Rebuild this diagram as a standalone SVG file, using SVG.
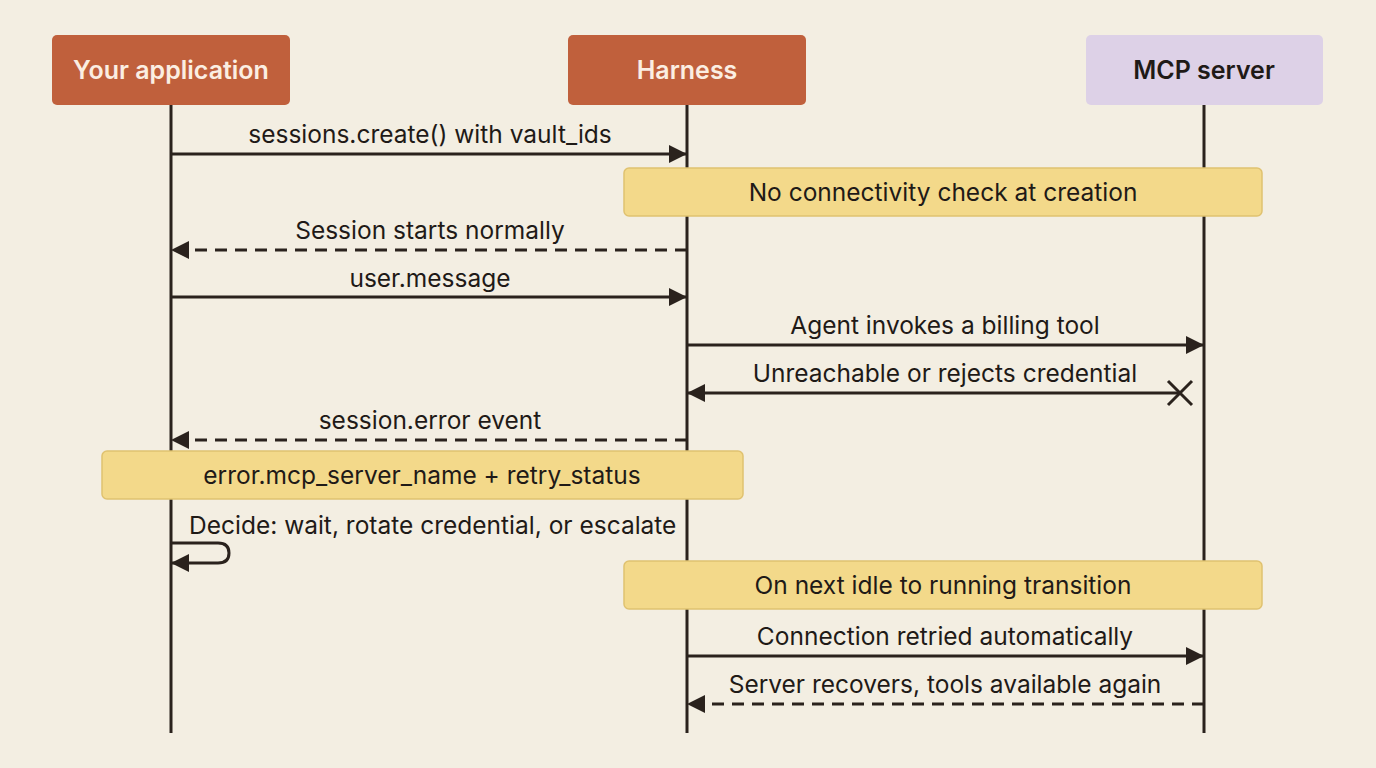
<svg xmlns="http://www.w3.org/2000/svg" width="1376" height="768" viewBox="0 0 1376 768">
<style>
.bg{fill:#f3eee2}
.life{stroke:#2a221d;stroke-width:3}
.actor{font-family:Inter,"Liberation Sans",sans-serif;font-size:25px;font-weight:600;text-anchor:middle}
.lbl{font-family:Inter,"Liberation Sans",sans-serif;font-size:24.5px;fill:#1f1a17;text-anchor:middle}
.note{fill:#f3d98a;stroke:#e0c270;stroke-width:1.5}
.msg{stroke:#2a221d;stroke-width:3;fill:none}
.dash{stroke-dasharray:12 8}
</style>
<defs>
<marker id="ah" viewBox="0 0 18 18" refX="17" refY="9" markerWidth="18" markerHeight="18" markerUnits="userSpaceOnUse" orient="auto">
<path d="M0,0 L18,9 L0,18 Z" fill="#2a221d"/>
</marker>
</defs>
<rect class="bg" x="0" y="0" width="1376" height="768"/>
<g id="lifelines">
<line class="life" x1="171" y1="105" x2="171" y2="733"/>
<line class="life" x1="687" y1="105" x2="687" y2="733"/>
<line class="life" x1="1204" y1="105" x2="1204" y2="733"/>
</g>
<g id="actor-app">
<rect x="52" y="35" width="238" height="70" rx="5" fill="#c0603c"/>
<text class="actor" x="171" y="79" fill="#fbeee2">Your application</text>
</g>
<g id="actor-harness">
<rect x="568" y="35" width="238" height="70" rx="5" fill="#c0603c"/>
<text class="actor" x="687" y="79" fill="#fbeee2">Harness</text>
</g>
<g id="actor-mcp">
<rect x="1086" y="35" width="237" height="70" rx="5" fill="#ddd1e7"/>
<text class="actor" x="1204" y="79" fill="#1f1a17">MCP server</text>
</g>
<g id="note-1">
<rect class="note" x="624" y="168" width="638" height="48" rx="5"/>
<text class="lbl" x="943" y="201">No connectivity check at creation</text>
</g>
<g id="note-2">
<rect class="note" x="102" y="451" width="641" height="48" rx="5"/>
<text class="lbl" x="422" y="484">error.mcp_server_name + retry_status</text>
</g>
<g id="note-3">
<rect class="note" x="624" y="561" width="638" height="48" rx="5"/>
<text class="lbl" x="943" y="594">On next idle to running transition</text>
</g>
<g id="connectors">
<line class="msg" x1="171" y1="154" x2="686" y2="154" marker-end="url(#ah)"/>
<text class="lbl" x="430" y="143">sessions.create() with vault_ids</text>
<line class="msg dash" x1="687" y1="250" x2="172" y2="250" marker-end="url(#ah)"/>
<text class="lbl" x="430" y="239">Session starts normally</text>
<line class="msg" x1="171" y1="297" x2="686" y2="297" marker-end="url(#ah)"/>
<text class="lbl" x="430" y="287">user.message</text>
<line class="msg" x1="687" y1="345" x2="1203" y2="345" marker-end="url(#ah)"/>
<text class="lbl" x="945" y="334">Agent invokes a billing tool</text>
<line class="msg" x1="1180" y1="393" x2="688" y2="393" marker-end="url(#ah)"/>
<path class="msg" d="M1168,381 L1192,405 M1192,381 L1168,405"/>
<text class="lbl" x="945" y="382">Unreachable or rejects credential</text>
<line class="msg dash" x1="687" y1="440" x2="172" y2="440" marker-end="url(#ah)"/>
<text class="lbl" x="430" y="429">session.error event</text>
<path class="msg" d="M171,543 L218,543 Q229,543 229,553 Q229,563 218,563 L172,563" marker-end="url(#ah)"/>
<text class="lbl" x="189" y="534" style="text-anchor:start">Decide: wait, rotate credential, or escalate</text>
<line class="msg" x1="687" y1="656" x2="1203" y2="656" marker-end="url(#ah)"/>
<text class="lbl" x="945" y="645">Connection retried automatically</text>
<line class="msg dash" x1="1204" y1="704" x2="688" y2="704" marker-end="url(#ah)"/>
<text class="lbl" x="945" y="693">Server recovers, tools available again</text>
</g>
</svg>
